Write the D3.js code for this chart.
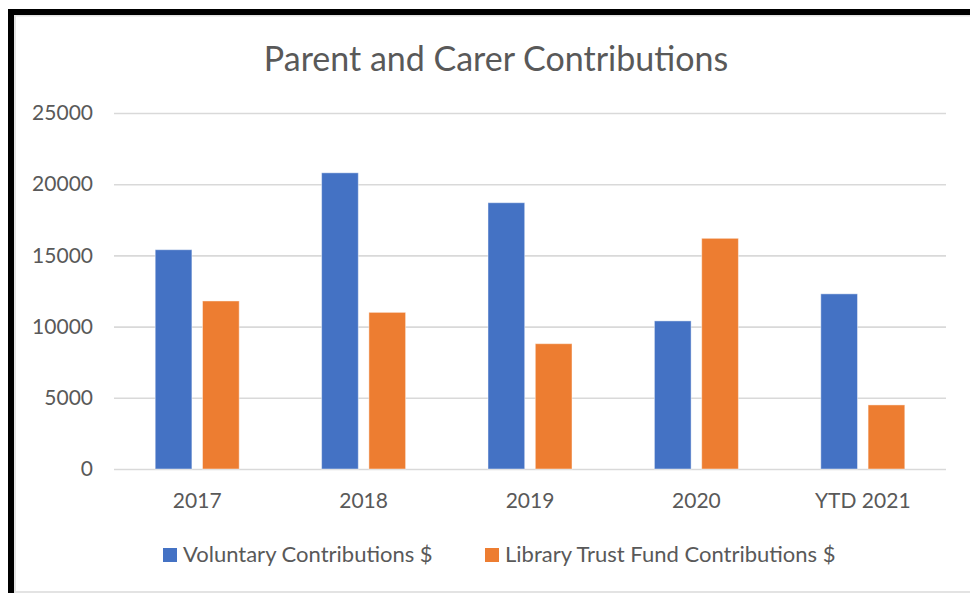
<!DOCTYPE html>
<html>
<head>
<meta charset="utf-8">
<script src="https://cdn.jsdelivr.net/npm/d3@7"></script>
<style>
  html, body { margin: 0; padding: 0; background: #fff; }
  svg { display: block; }
  text { font-family: Lato, "Open Sans", sans-serif; fill: #595959; }
</style>
</head>
<body>
<svg id="chart" width="970" height="593"></svg>
<script>
// Données
const categories = ["2017", "2018", "2019", "2020", "YTD 2021"];
const series = ["Voluntary Contributions $", "Library Trust Fund Contributions $"];
const voluntary = [15400, 20800, 18700, 10400, 12300];
const libraryTrust = [11800, 11000, 8800, 16200, 4500];
const yTicks = [0, 5000, 10000, 15000, 20000, 25000];
const colors = ["#4472C4", "#ED7D31"];

const width = 970;
const height = 593;
const plot = { left: 114, right: 946, top: 113, bottom: 469 };

const svg = d3.select("#chart");

// Cadre noir (capture d'écran)
svg.append("rect").attr("x", 14).attr("y", 15).attr("width", width - 14).attr("height", height - 15)
    .attr("fill", "#fff");
svg.append("rect").attr("x", 8).attr("y", 9).attr("width", width - 8).attr("height", 6).attr("fill", "#000");
svg.append("rect").attr("x", 8).attr("y", 9).attr("width", 6).attr("height", height - 9).attr("fill", "#000");
svg.append("rect").attr("x", 14).attr("y", 15).attr("width", 2).attr("height", height - 15).attr("fill", "#e3e3e3");
svg.append("rect").attr("x", 14).attr("y", 15).attr("width", width - 14).attr("height", 1.5).attr("fill", "#e3e3e3");
svg.append("rect").attr("x", 14).attr("y", height - 2).attr("width", width - 14).attr("height", 2).attr("fill", "#e3e3e3");

// Échelles
const y = d3.scaleLinear().domain([0, 25000]).range([plot.bottom, plot.top]);
const x0 = d3.scaleBand().domain(categories).range([plot.left, plot.right]).paddingInner(0).paddingOuter(0);
const x1 = d3.scaleBand().domain(series).range([0, x0.bandwidth()]).paddingInner(0.224).paddingOuter(0.871);

// Titre
svg.append("text")
    .attr("x", 496)
    .attr("y", 71)
    .attr("text-anchor", "middle")
    .style("font-size", "34px")
    .text("Parent and Carer Contributions");

// Grille
const yAxis = d3.axisLeft(y).tickValues(yTicks).tickSize(-(plot.right - plot.left)).tickPadding(21).tickFormat(d3.format("d"));
const gy = svg.append("g").attr("transform", `translate(${plot.left},0)`).call(yAxis);
gy.select(".domain").remove();
gy.selectAll(".tick line").attr("stroke", "#d9d9d9").attr("stroke-width", 1.6);
gy.selectAll(".tick text").style("font-size", "21px").attr("fill", "#595959").attr("font-family", null);

// Barres
const rows = categories.map((c, i) => ({ cat: c, values: [voluntary[i], libraryTrust[i]] }));
const groups = svg.selectAll(".grp")
    .data(rows)
    .enter()
    .append("g")
    .attr("class", "grp")
    .attr("transform", d => `translate(${x0(d.cat)},0)`);

groups.selectAll("rect")
    .data(d => d.values.map((v, j) => ({ s: series[j], v: v, j: j })))
    .enter()
    .append("rect")
    .attr("x", d => x1(d.s))
    .attr("y", d => y(d.v))
    .attr("width", x1.bandwidth())
    .attr("height", d => y(0) - y(d.v))
    .attr("fill", d => colors[d.j])
    .attr("stroke", "#fff")
    .attr("stroke-opacity", 0.45)
    .attr("stroke-width", 1);

// Axe X
const xAxis = d3.axisBottom(x0).tickSize(0).tickPadding(0);
const gx = svg.append("g").attr("transform", `translate(0,${plot.bottom})`).call(xAxis);
gx.select(".domain").remove();
gx.selectAll(".tick text")
    .attr("dy", null)
    .attr("y", 39)
    .style("font-size", "21px")
    .attr("fill", "#595959")
    .attr("font-family", null);

// Légende
const legendX = [163, 485];
const legend = svg.selectAll(".leg")
    .data(series)
    .enter()
    .append("g")
    .attr("class", "leg")
    .attr("transform", (d, i) => `translate(${legendX[i]},548)`);

legend.append("rect")
    .attr("width", 14)
    .attr("height", 14)
    .attr("fill", (d, i) => colors[i]);

legend.append("text")
    .attr("x", 20)
    .attr("y", 14)
    .style("font-size", "22px")
    .text(d => d);
</script>
</body>
</html>
